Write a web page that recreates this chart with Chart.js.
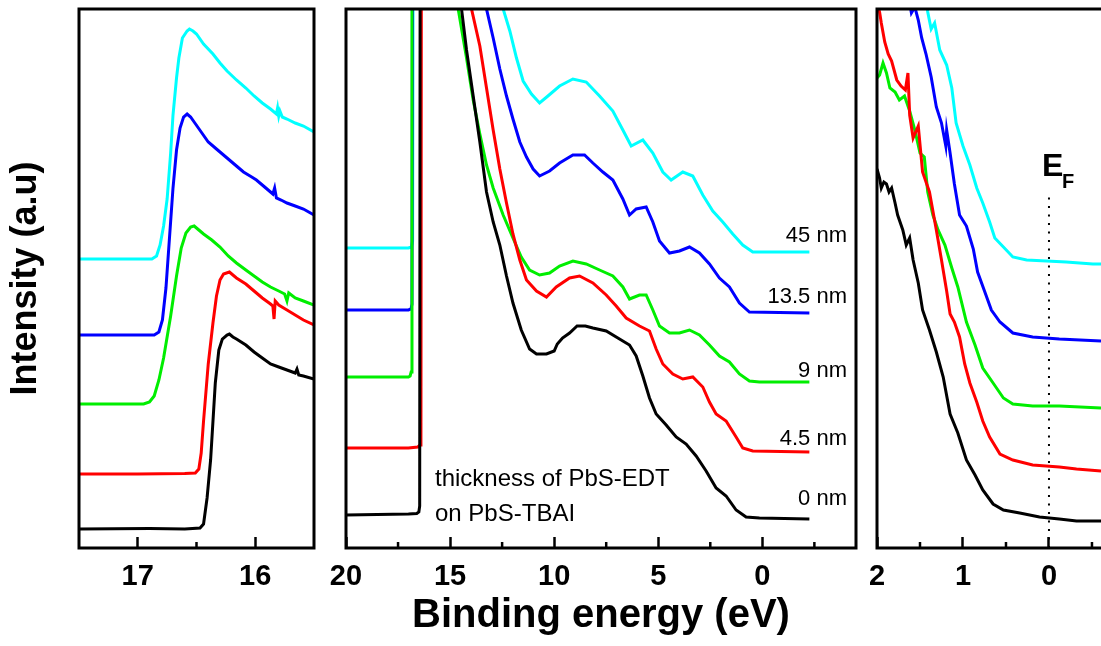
<!DOCTYPE html>
<html>
<head>
<meta charset="utf-8">
<script src="https://cdn.jsdelivr.net/npm/chart.js@4.4.1/dist/chart.umd.min.js"></script>
<style>
  html, body { margin: 0; padding: 0; background: #fff; overflow: hidden; }
  #wrap { position: relative; width: 1101px; height: 646px; }
  #wrap canvas { position: absolute; left: 0; top: 0; }
</style>
</head>
<body>
<div id="wrap">
  <canvas id="cutoff" width="1101" height="646"></canvas>
  <canvas id="valence" width="1101" height="646"></canvas>
  <canvas id="fermi" width="1101" height="646"></canvas>
</div>
<script>
// film thickness of PbS-EDT on PbS-TBAI, one trace each
const thickness = ["0 nm", "4.5 nm", "9 nm", "13.5 nm", "45 nm"];
const colors = ["#000000", "#ff0000", "#00ee00", "#0000ff", "#00ffff"];

// secondary electron cutoff, [binding energy eV, intensity a.u.]
const cutoff0 = [[17.5, 19], [16.9, 19.5], [16.6, 19], [16.47, 20], [16.44, 24], [16.41, 50], [16.38, 88], [16.34, 165], [16.31, 198], [16.28, 209], [16.24, 213], [16.22, 214], [16.19, 211], [16.16, 209], [16.08, 203], [16.01, 196], [15.94, 190], [15.87, 184], [15.8, 181], [15.73, 178], [15.66, 175], [15.645, 179], [15.63, 173], [15.59, 172], [15.5, 169]];
const cutoff4p5 = [[17.5, 74], [17.0, 74], [16.6, 74.5], [16.51, 75], [16.48, 79], [16.46, 95], [16.44, 127], [16.4, 184], [16.36, 225], [16.33, 252], [16.3, 268], [16.27, 274], [16.22, 276], [16.16, 270], [16.08, 264], [16.01, 257], [15.94, 250], [15.87, 244], [15.85, 242], [15.84, 229], [15.83, 247], [15.8, 243], [15.73, 238], [15.66, 233], [15.59, 228], [15.5, 223]];
const cutoff9 = [[17.5, 144], [16.95, 144], [16.9, 146], [16.86, 152], [16.82, 168], [16.78, 190], [16.72, 232], [16.67, 272], [16.63, 300], [16.59, 315], [16.55, 321], [16.52, 322], [16.48, 318], [16.44, 314], [16.37, 308], [16.3, 301], [16.23, 292], [16.16, 285], [16.08, 278], [16.01, 272], [15.94, 266], [15.87, 261], [15.8, 257], [15.75, 254], [15.73, 247], [15.715, 255], [15.66, 250], [15.59, 247], [15.5, 243]];
const cutoff13p5 = [[17.5, 213], [16.86, 213], [16.82, 216], [16.79, 228], [16.76, 260], [16.73, 310], [16.7, 360], [16.67, 398], [16.64, 420], [16.61, 431], [16.58, 434], [16.55, 431], [16.52, 426], [16.46, 416], [16.4, 406], [16.33, 399], [16.27, 393], [16.21, 387], [16.15, 381], [16.1, 376], [16.03, 371], [15.99, 368], [15.92, 361], [15.85, 354], [15.835, 360], [15.82, 350], [15.78, 348], [15.73, 345], [15.66, 342], [15.59, 339], [15.5, 333]];
const cutoff45 = [[17.5, 289], [16.88, 289], [16.84, 292], [16.81, 303], [16.78, 322], [16.75, 349], [16.72, 395], [16.7, 433], [16.67, 470], [16.65, 490], [16.62, 510], [16.58, 517], [16.56, 519], [16.53, 517], [16.5, 514], [16.44, 504], [16.36, 494], [16.3, 485], [16.24, 477], [16.16, 468], [16.08, 460], [16.01, 452], [15.94, 445], [15.87, 439], [15.82, 434], [15.81, 440], [15.8, 432], [15.79, 437], [15.77, 431], [15.73, 429], [15.66, 425], [15.59, 422], [15.5, 416]];

// full valence band scan
const valence0 = [[20, 33], [18.5, 33.5], [17.0, 34], [16.6, 34.5], [16.5, 36], [16.46, 42], [16.43, 800], [15.0, 800], [14.45, 539], [14.21, 498], [13.89, 452], [13.57, 406], [13.25, 356], [12.93, 326], [12.61, 303], [12.29, 272], [11.98, 245], [11.58, 218], [11.18, 199], [10.85, 194], [10.37, 194], [10.0, 197], [9.85, 204], [9.6, 210], [9.26, 215], [8.9, 222], [8.5, 222], [8.14, 220], [7.5, 217], [6.86, 209], [6.38, 203], [6.06, 192], [5.74, 172], [5.42, 150], [5.1, 134], [4.62, 123], [4.14, 111], [3.66, 104], [3.18, 92], [2.7, 77], [2.22, 60], [1.74, 52], [1.26, 38], [0.78, 31], [0.14, 30], [-2.26, 29]];
const valence4p5 = [[20, 100], [17.0, 100], [16.55, 101], [16.44, 103], [16.4, 110], [16.37, 800], [15.0, 800], [13.97, 539], [13.57, 502], [13.25, 460], [12.93, 418], [12.61, 379], [12.29, 345], [11.98, 314], [11.65, 288], [11.33, 268], [10.85, 257], [10.37, 251], [9.9, 261], [9.26, 270], [8.78, 272], [8.14, 265], [7.5, 253], [7.02, 242], [6.54, 230], [5.9, 222], [5.42, 217], [5.1, 199], [4.78, 184], [4.3, 174], [3.82, 169], [3.34, 171], [2.86, 161], [2.54, 146], [2.22, 134], [1.74, 127], [1.26, 111], [0.94, 100], [0.46, 97], [-2.26, 96]];
const valence9 = [[20, 171], [17.0, 171], [16.92, 172], [16.87, 176], [16.83, 800], [15.0, 800], [14.61, 539], [14.21, 490], [13.89, 448], [13.57, 414], [13.25, 383], [12.93, 360], [12.45, 333], [11.98, 310], [11.58, 291], [11.18, 278], [10.7, 273], [10.22, 275], [9.74, 282], [9.1, 287], [8.46, 284], [7.82, 278], [7.18, 272], [6.7, 261], [6.38, 249], [5.9, 253], [5.58, 253], [5.26, 238], [4.94, 222], [4.46, 215], [3.98, 215], [3.5, 218], [3.02, 213], [2.54, 203], [2.06, 192], [1.58, 186], [1.1, 174], [0.62, 167], [0.14, 166], [-2.26, 166]];
const valence13p5 = [[20, 238], [17.0, 238], [16.88, 239], [16.83, 244], [16.79, 800], [14.0, 800], [13.25, 539], [12.93, 510], [12.61, 479], [12.29, 452], [11.98, 429], [11.65, 406], [11.33, 391], [11.01, 379], [10.7, 372], [10.22, 377], [9.74, 385], [9.1, 393], [8.54, 393], [8.14, 385], [7.66, 376], [7.18, 368], [6.7, 349], [6.38, 333], [6.06, 339], [5.58, 341], [5.26, 326], [4.94, 307], [4.46, 295], [3.98, 297], [3.5, 301], [3.02, 295], [2.54, 284], [2.06, 270], [1.58, 261], [1.1, 245], [0.62, 236], [-2.26, 235]];
const valence45 = [[20, 300], [17.0, 300], [16.86, 301], [16.8, 307], [16.76, 800], [13.5, 800], [12.45, 539], [12.13, 517], [11.81, 490], [11.49, 467], [11.09, 454], [10.7, 445], [10.3, 452], [9.74, 462], [9.1, 469], [8.46, 466], [7.82, 452], [7.18, 437], [6.7, 418], [6.3, 402], [5.74, 408], [5.26, 395], [4.78, 376], [4.38, 368], [3.82, 376], [3.34, 372], [2.86, 353], [2.38, 337], [1.9, 326], [1.42, 314], [0.94, 303], [0.46, 296], [-2.26, 296]];

// close-up near the Fermi level
const fermi0 = [[2.0, 379], [1.97, 370], [1.95, 360], [1.92, 366], [1.89, 364], [1.86, 356], [1.83, 360], [1.79, 345], [1.76, 333], [1.7, 318], [1.66, 303], [1.62, 310], [1.58, 288], [1.52, 265], [1.47, 238], [1.39, 218], [1.31, 196], [1.23, 171], [1.15, 134], [1.06, 115], [0.96, 88], [0.86, 73], [0.77, 58], [0.65, 44], [0.53, 38], [0.34, 35], [0.11, 31], [-0.12, 29], [-0.32, 27], [-0.605, 27]];
const fermi4p5 = [[2.0, 545], [1.97, 536], [1.95, 525], [1.91, 506], [1.87, 494], [1.83, 487], [1.77, 468], [1.72, 462], [1.67, 458], [1.64, 475], [1.62, 433], [1.58, 410], [1.52, 422], [1.47, 376], [1.39, 356], [1.31, 318], [1.25, 288], [1.19, 257], [1.15, 234], [1.1, 226], [1.04, 211], [0.98, 184], [0.92, 165], [0.84, 146], [0.77, 127], [0.69, 111], [0.57, 94], [0.42, 88], [0.19, 83], [-0.12, 81], [-0.32, 79], [-0.605, 77]];
const fermi9 = [[2.0, 470], [1.97, 473], [1.93, 485], [1.89, 475], [1.85, 460], [1.79, 456], [1.74, 448], [1.68, 452], [1.62, 437], [1.56, 418], [1.5, 395], [1.45, 391], [1.41, 356], [1.35, 333], [1.29, 318], [1.21, 303], [1.13, 280], [1.06, 261], [0.96, 226], [0.86, 203], [0.77, 180], [0.65, 165], [0.53, 150], [0.42, 144], [0.19, 142], [-0.12, 142], [-0.605, 140]];
const fermi13p5 = [[1.62, 545], [1.6, 535], [1.56, 541], [1.52, 528], [1.48, 510], [1.43, 494], [1.37, 471], [1.31, 441], [1.25, 425], [1.2, 402], [1.19, 418], [1.15, 395], [1.1, 364], [1.04, 333], [0.96, 322], [0.88, 299], [0.83, 276], [0.75, 257], [0.67, 238], [0.57, 226], [0.42, 215], [0.19, 211], [-0.12, 209], [-0.605, 207]];
const fermi45 = [[1.42, 545], [1.41, 536], [1.37, 519], [1.33, 525], [1.27, 498], [1.19, 483], [1.13, 460], [1.08, 425], [1.0, 402], [0.92, 383], [0.84, 360], [0.77, 345], [0.69, 326], [0.63, 310], [0.53, 301], [0.42, 291], [0.26, 288], [0.03, 287], [-0.2, 286], [-0.51, 284], [-0.605, 284]];
const fermiLevel = [[0, 0], [0, 351]];

// axis ticks
const cutoffTicks = [17, 16];
const cutoffMinor = [16.5];
const valenceTicks = [20, 15, 10, 5, 0];
const valenceMinor = [17.5, 12.5, 7.5, 2.5, -2.5];
const fermiTicks = [2, 1, 0];
const fermiMinor = [1.5, 0.5, -0.5];

const FONT = "'Liberation Sans', Arial, Helvetica, sans-serif";
const W = 1101, TOP = 9, BOTTOM_H = 98;

// box round the plot area + short minor ticks
const framePlugin = {
  id: "frame",
  afterDatasetsDraw(chart, args, opts) {
    const { ctx, chartArea: a } = chart;
    const x = chart.scales.x;
    ctx.save();
    ctx.strokeStyle = "#000";
    ctx.lineWidth = 3;
    ctx.lineCap = "square";
    ctx.beginPath();
    ctx.moveTo(a.right, a.top);
    ctx.lineTo(a.left, a.top);
    ctx.lineTo(a.left, a.bottom);
    ctx.lineTo(a.right, a.bottom);
    if (!opts.open) ctx.lineTo(a.right, a.top);
    ctx.stroke();
    ctx.lineWidth = 2.5;
    ctx.lineCap = "butt";
    (opts.minor || []).forEach(v => {
      const px = x.getPixelForValue(v);
      ctx.beginPath();
      ctx.moveTo(px, a.bottom);
      ctx.lineTo(px, a.bottom - 6);
      ctx.stroke();
    });
    ctx.restore();
  }
};

const seriesLabelPlugin = {
  id: "seriesLabels",
  afterDraw(chart) {
    const { ctx, chartArea: a } = chart;
    const y = chart.scales.y;
    const levels = [43, 103, 171, 245, 306];
    ctx.save();
    ctx.fillStyle = "#000";
    ctx.font = "22px " + FONT;
    ctx.textAlign = "right";
    ctx.textBaseline = "alphabetic";
    thickness.forEach((t, i) => ctx.fillText(t, a.right - 9, y.getPixelForValue(levels[i])));
    ctx.font = "24px " + FONT;
    ctx.textAlign = "left";
    ctx.fillText("thickness of PbS-EDT", 435, 486);
    ctx.fillText("on PbS-TBAI", 435, 521);
    ctx.restore();
  }
};

const fermiLabelPlugin = {
  id: "fermiLabel",
  afterDraw(chart) {
    const { ctx } = chart;
    const px = chart.scales.x.getPixelForValue(0);
    ctx.save();
    ctx.fillStyle = "#000";
    ctx.textBaseline = "alphabetic";
    ctx.textAlign = "left";
    ctx.font = "bold 32px " + FONT;
    ctx.fillText("E", px - 7, 176);
    ctx.font = "bold 20px " + FONT;
    ctx.fillText("F", px + 13, 188);
    ctx.restore();
  }
};

function xAxis(min, max, majors, title) {
  return {
    type: "linear",
    reverse: true,
    min: min,
    max: max,
    afterBuildTicks: s => { s.ticks = majors.map(v => ({ value: v })); },
    afterFit: s => { s.height = BOTTOM_H; },
    grid: { display: true, drawOnChartArea: false, drawTicks: true, tickLength: -11, tickWidth: 2.5, tickColor: "#000" },
    border: { display: false },
    ticks: { padding: 23, autoSkip: false, maxRotation: 0, color: "#000", font: { family: FONT, size: 29, weight: "bold" } },
    title: {
      display: !!title,
      text: title || "",
      color: "#000",
      font: { family: FONT, size: 40, weight: "bold" },
      padding: { top: 0, bottom: 6 }
    }
  };
}

function makeSets(series) {
  return series.map((d, i) => ({
    label: thickness[i],
    data: d,
    borderColor: colors[i],
    borderWidth: 3,
    pointRadius: 0,
    tension: 0,
    fill: false,
    clip: 0
  }));
}

function makeChart(id, datasets, x, yAxis, padding, plugins, frameOpts) {
  return new Chart(document.getElementById(id), {
    type: "line",
    data: { datasets: datasets },
    options: {
      responsive: false,
      animation: false,
      devicePixelRatio: 1,
      layout: { padding: padding },
      scales: { x: x, y: yAxis },
      plugins: { legend: { display: false }, tooltip: { enabled: false }, frame: frameOpts }
    },
    plugins: plugins
  });
}

const hiddenY = { min: 0, max: 539, display: false };

makeChart(
  "cutoff",
  makeSets([cutoff0, cutoff4p5, cutoff9, cutoff13p5, cutoff45]),
  xAxis(15.5, 17.5, cutoffTicks, null),
  {
    min: 0, max: 539,
    afterFit: s => { s.width = 79; },
    grid: { display: false },
    border: { display: false },
    ticks: { display: false },
    title: { display: true, text: "Intensity (a.u)", color: "#000", font: { family: FONT, size: 36, weight: "bold" }, padding: { top: 4, bottom: 0 } }
  },
  { left: 0, top: TOP, right: W - 314, bottom: 0 },
  [framePlugin],
  { minor: cutoffMinor }
);

makeChart(
  "valence",
  makeSets([valence0, valence4p5, valence9, valence13p5, valence45]),
  xAxis(-4.5, 20, valenceTicks, "Binding energy (eV)"),
  hiddenY,
  { left: 346, top: TOP, right: W - 856, bottom: 0 },
  [framePlugin, seriesLabelPlugin],
  { minor: valenceMinor }
);

const fermiSets = makeSets([fermi0, fermi4p5, fermi9, fermi13p5, fermi45]);
fermiSets.push({
  label: "EF",
  data: fermiLevel,
  borderColor: "#000",
  borderWidth: 2,
  borderDash: [2, 6.5],
  pointRadius: 0,
  fill: false,
  clip: 0
});
makeChart(
  "fermi",
  fermiSets,
  xAxis(-0.605, 2, fermiTicks, null),
  hiddenY,
  { left: 877, top: TOP, right: 0, bottom: 0 },
  [framePlugin, fermiLabelPlugin],
  { minor: fermiMinor, open: true }
);
</script>
</body>
</html>
